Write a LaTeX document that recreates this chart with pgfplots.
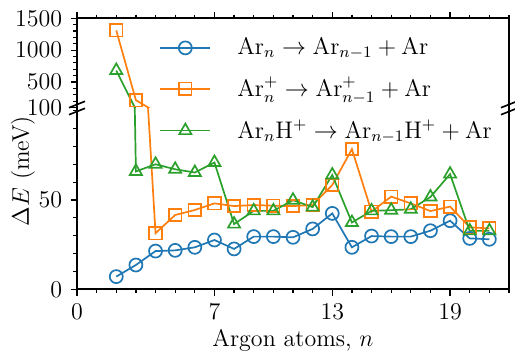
\documentclass[border=0pt]{standalone}
\usepackage{pgfplots}
\pgfplotsset{compat=1.18}
\usepackage{pgfplotstable}
\definecolor{c0}{HTML}{1F77B4}
\definecolor{c1}{HTML}{FF7F0E}
\definecolor{c2}{HTML}{2CA02C}
\pgfplotstableread{
n E
2 7.1
3 13.6
4 21.4
5 21.8
6 23.5
7 27.6
8 22.6
9 29.5
10 29.5
11 29.1
12 33.8
13 42.5
14 23.5
15 29.8
16 29.5
17 29.5
18 32.8
19 38.4
20 28.5
21 28.0
}\tblA
\pgfplotstableread{
n E
2 1310
3 215
4 31.4
5 41.6
6 44.4
7 48.1
8 46.6
9 47.2
10 46.8
11 46.6
12 47.2
13 58.4
14 78.5
15 43.5
16 51.9
17 48.1
18 43.8
19 46.3
20 34.7
21 34.1
}\tblB
\pgfplotstableread{
n E
2 680
3 66.0
4 70.0
5 67.2
6 65.4
7 71.0
8 36.5
9 43.9
10 43.9
11 49.9
12 46.0
13 64.0
14 37.4
15 43.9
16 44.3
17 44.8
18 51.7
19 64.5
20 32.7
21 32.7
}\tblC
\pgfplotsset{
  common/.style={
    scale only axis, width=216pt,
    xmin=0, xmax=22,
    xtick={0,7,13,19}, minor xtick={1,...,22},
    tick align=outside,
    major tick length=3.2pt, minor tick length=1.8pt,
    tick style={black, line width=0.6pt},
    axis line style={line width=0.8pt, line cap=rect},
    /pgf/number format/1000 sep={},
    clip=true,
  },
  s0/.style={c0, line width=0.85pt},
  s1/.style={c1, line width=0.85pt},
  s2/.style={c2, line width=0.85pt},
  m0/.style={c0, only marks, mark=o, mark size=3.25pt, mark options={solid, line width=0.85pt}},
  m1/.style={c1, only marks, mark=square, mark size=3.1pt, mark options={solid, line width=0.85pt}},
  m2/.style={c2, only marks, mark=triangle, mark size=3.5pt, mark options={solid, line width=0.85pt}},
}
\newcommand{\lstrut}{\rule[-4pt]{0pt}{10.5pt}}
\begin{document}
\fontsize{12}{14.4}\selectfont
\begin{tikzpicture}
\useasboundingbox (0,0) rectangle (257.5pt,176pt);
% lower panel
\begin{axis}[common,
  at={(38.5pt,31.35pt)}, anchor=south west, height=90.9pt,
  ymin=0, ymax=101.8,
  ytick={0,50}, minor ytick={10,20,30,40,60,70,80,90,100},
  axis x line*=bottom, axis y line*=left,
  xtick pos=left, ytick pos=left,
  xlabel={Argon atoms, $n$},
  ylabel={$\Delta E$ (meV)},
  xlabel style={at={(axis description cs:0.5,-0.317)}, anchor=base},
  ylabel style={at={(axis description cs:-0.125,0.65)}, anchor=center},
  legend style={draw=none, fill=none, at={(axis description cs:0.19,1.385)}, anchor=north west,
    inner sep=0pt, row sep=9.6pt, nodes={inner sep=0pt, anchor=west}},
  legend cell align=left,
  legend image code/.code={
    \draw[mark repeat=2,mark phase=2] plot coordinates {(0pt,0pt) (12.5pt,0pt) (25pt,0pt)};
    \path[draw=none, fill=none] (0pt,-0.5pt) rectangle (38.5pt,0.5pt);
  },
]
\addplot[s0, forget plot] table[x=n,y=E] {\tblA};
\addplot[m0, forget plot, restrict y to domain=0:101.8] table[x=n,y=E] {\tblA};
\addplot[s1, forget plot] table[x=n,y=E] {\tblB};
\addplot[m1, forget plot, restrict y to domain=0:101.8] table[x=n,y=E] {\tblB};
\addplot[s2, forget plot] table[x=n,y=E] {\tblC};
\addplot[m2, forget plot, restrict y to domain=0:101.8] table[x=n,y=E] {\tblC};
\addlegendimage{c0, line width=0.85pt, mark=o, mark size=3.25pt, mark options={solid, line width=0.85pt}}
\addlegendentry{\lstrut$\mathrm{Ar}_n \rightarrow \mathrm{Ar}_{n-1} + \mathrm{Ar}$}
\addlegendimage{c1, line width=0.85pt, mark=square, mark size=3.1pt, mark options={solid, line width=0.85pt}}
\addlegendentry{\lstrut$\mathrm{Ar}_n^+ \rightarrow \mathrm{Ar}_{n-1}^+ + \mathrm{Ar}$}
\addlegendimage{c2, line width=0.85pt, mark=triangle, mark size=3.5pt, mark options={solid, line width=0.85pt}}
\addlegendentry{\lstrut$\mathrm{Ar}_n\mathrm{H}^+ \rightarrow \mathrm{Ar}_{n-1}\mathrm{H}^+ + \mathrm{Ar}$}
\end{axis}
% upper panel
\begin{axis}[common,
  at={(38.5pt,122.25pt)}, anchor=south west, height=44.6pt,
  ymin=100, ymax=1500,
  ytick={100,500,1000,1500}, minor ytick={200,300,400,600,700,800,900,1100,1200,1300,1400},
  axis x line*=top, axis y line*=left,
  xtick pos=right, ytick pos=left,
  xticklabels={},
]
\addplot[s0] table[x=n,y=E] {\tblA};
\addplot[s1] table[x=n,y=E] {\tblB};
\addplot[m1, restrict y to domain=100:1500] table[x=n,y=E] {\tblB};
\addplot[s2] table[x=n,y=E] {\tblC};
\addplot[m2, restrict y to domain=100:1500] table[x=n,y=E] {\tblC};
\end{axis}
% right spine
\draw[line width=0.8pt, line cap=rect] (254.5pt,31.35pt) -- (254.5pt,166.85pt);
% break marks
\foreach \yc in {123.75,120.25}{
  \draw[line width=0.8pt] (34.5pt,\yc pt-1.6pt) -- (42.5pt,\yc pt+1.6pt);
  \draw[line width=0.8pt] (250.5pt,\yc pt-1.6pt) -- (258.5pt,\yc pt+1.6pt);
}
\end{tikzpicture}
\end{document}
